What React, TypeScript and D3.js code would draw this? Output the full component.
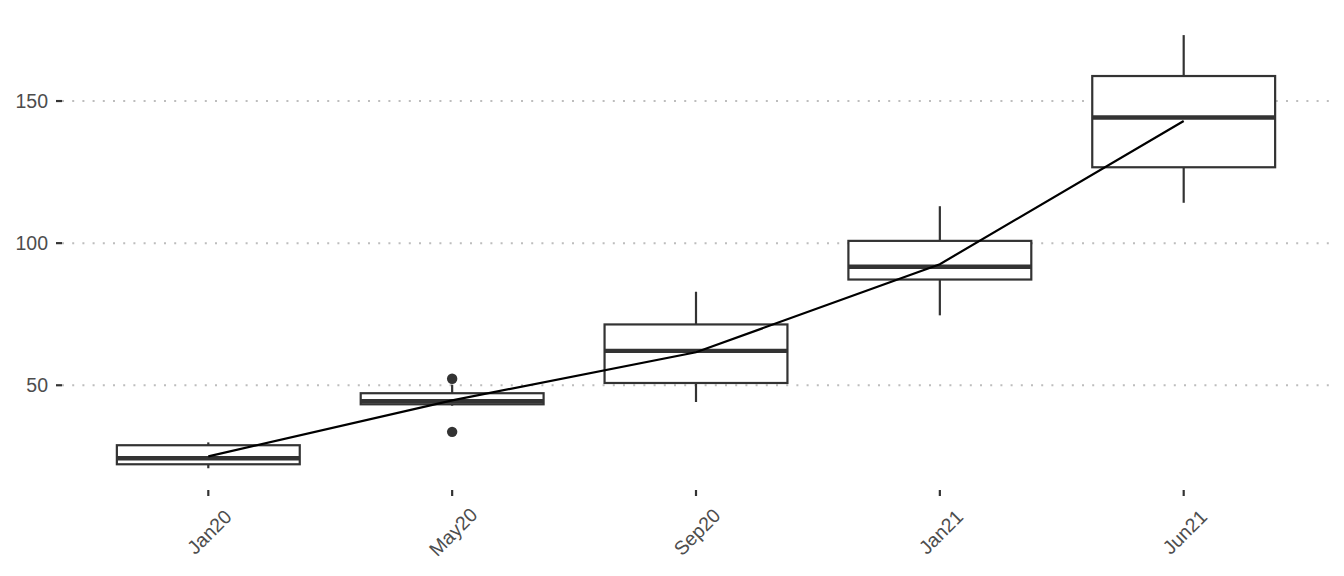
import React from "react";
import * as d3 from "d3";

const categories = ["Jan20", "May20", "Sep20", "Jan21", "Jun21"];
const lowerWhisker = [20.8, 42.8, 44.1, 74.6, 114.2];
const q1 = [22.2, 43.3, 50.8, 87.2, 126.7];
const median = [24.3, 44.4, 62.1, 91.7, 144.2];
const q3 = [28.9, 47.2, 71.4, 100.8, 158.8];
const upperWhisker = [29.9, 50.2, 82.9, 113.0, 173.2];
const outlierCats = ["May20", "May20"];
const outlierValues = [52.3, 33.6];
const trend = [25.0, 44.7, 61.6, 92.6, 143.0];
const yTicks = [50, 100, 150];

const W = 1344;
const H = 576;
const left = 62;
const right = 1330;
const top = 13.5;
const bottom = 489;

export default function App() {
  const x = d3.scalePoint<string>().domain(categories).range([left, right]).padding(0.6);
  const y = d3.scaleLinear().domain([13.5, 180.8]).range([bottom, top]);
  const bw = x.step() * 0.75;
  const line = d3
    .line<number>()
    .x((_, i) => x(categories[i]) as number)
    .y((d) => y(d));
  const ink = "#333333";
  return (
    <svg
      width={W}
      height={H}
      style={{ position: "fixed", left: 0, top: 0, background: "#fff" }}
      fontFamily="'Liberation Sans', Arial, sans-serif"
    >
      {yTicks.map((t) => (
        <g key={t}>
          <line x1={left} x2={right} y1={y(t)} y2={y(t)} stroke="#bdbdbd" strokeWidth={2} strokeDasharray="2,8.2" />
          <line x1={left - 6} x2={left} y1={y(t)} y2={y(t)} stroke={ink} strokeWidth={2.2} />
          <text x={left - 14} y={y(t)} dy="0.36em" textAnchor="end" fontSize={19.5} fill="#4d4d4d">
            {t}
          </text>
        </g>
      ))}
      {categories.map((c) => (
        <g key={c}>
          <line x1={x(c)} x2={x(c)} y1={bottom + 1} y2={bottom + 7} stroke={ink} strokeWidth={2.2} />
          <text
            transform={`translate(${(x(c) as number) + 1},${532}) rotate(-45)`}
            textAnchor="middle"
            dy="0.35em"
            fontSize={19.5}
            fill="#4d4d4d"
          >
            {c}
          </text>
        </g>
      ))}
      {categories.map((c, i) => {
        const cx = x(c) as number;
        return (
          <g key={"b" + c}>
            <line x1={cx} x2={cx} y1={y(upperWhisker[i])} y2={y(q3[i])} stroke={ink} strokeWidth={2.2} />
            <line x1={cx} x2={cx} y1={y(q1[i])} y2={y(lowerWhisker[i])} stroke={ink} strokeWidth={2.2} />
            <rect
              x={cx - bw / 2}
              y={y(q3[i])}
              width={bw}
              height={y(q1[i]) - y(q3[i])}
              fill="#ffffff"
              stroke={ink}
              strokeWidth={2.2}
            />
            <line x1={cx - bw / 2} x2={cx + bw / 2} y1={y(median[i])} y2={y(median[i])} stroke={ink} strokeWidth={4.4} />
          </g>
        );
      })}
      {outlierValues.map((v, i) => (
        <circle key={"o" + i} cx={x(outlierCats[i])} cy={y(v)} r={5.2} fill={ink} />
      ))}
      <path d={line(trend) || ""} fill="none" stroke="#000" strokeWidth={2.2} />
    </svg>
  );
}
